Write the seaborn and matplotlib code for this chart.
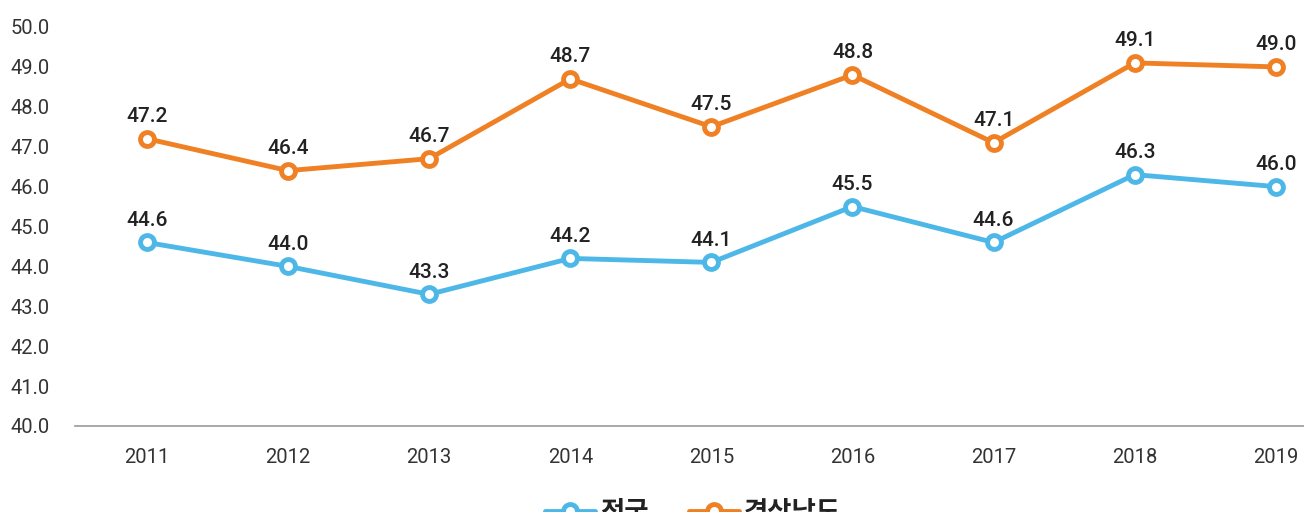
import pandas as pd
import matplotlib.pyplot as plt
from matplotlib.lines import Line2D
import seaborn as sns

years = ["2011", "2012", "2013", "2014", "2015", "2016", "2017", "2018", "2019"]
national = [44.6, 44.0, 43.3, 44.2, 44.1, 45.5, 44.6, 46.3, 46.0]
gyeongnam = [47.2, 46.4, 46.7, 48.7, 47.5, 48.8, 47.1, 49.1, 49.0]
series_names = ["전국", "경상남도"]

df = pd.DataFrame({"year": years * 2,
                   "value": national + gyeongnam,
                   "region": [series_names[0]] * 9 + [series_names[1]] * 9})

sns.set_theme(style="white")
plt.rcParams['font.family'] = ['Roboto', 'Noto Sans CJK KR', 'DejaVu Sans']

colors = {"전국": "#4db8e8", "경상남도": "#f08024"}

fig = plt.figure(figsize=(13.04, 5.12), dpi=100)
ax = fig.add_axes([75 / 1304, 1 - 426 / 512, 1 - 75 / 1304, 399 / 512])

sns.lineplot(data=df, x="year", y="value", hue="region", palette=colors,
             marker="o", markersize=10, markerfacecolor="white",
             markeredgewidth=3.5, linewidth=3.5, ax=ax, sort=False, legend=False)

# seaborn paints marker edges white; give them the line colour
for ln in ax.lines:
    ln.set_markeredgecolor(ln.get_color())

for name, vals in zip(series_names, [national, gyeongnam]):
    for i, v in enumerate(vals):
        ax.annotate(f"{v:.1f}", (i, v), xytext=(0, 9), textcoords="offset points",
                    ha="center", va="bottom", fontsize=15, fontweight="medium",
                    color="#222222")

ax.set_ylim(40, 50)
ax.set_xlim(-0.51, 8.2)
ax.set_yticks([40 + i for i in range(11)])
ax.set_yticklabels([f"{40 + i:.1f}" for i in range(11)])
ax.set_xlabel("")
ax.set_ylabel("")
ax.tick_params(axis="both", length=0, labelsize=14.5, colors="#333333")
ax.tick_params(axis="y", pad=18)
ax.tick_params(axis="x", pad=16)
for s in ["top", "right", "left"]:
    ax.spines[s].set_visible(False)
ax.spines["bottom"].set_color("#999999")
ax.spines["bottom"].set_linewidth(1.2)

handles = [Line2D([], [], color=colors[n], linewidth=3.5, marker="o", markersize=10,
                  markerfacecolor="white", markeredgecolor=colors[n],
                  markeredgewidth=3.5) for n in series_names]
leg = fig.legend(handles, series_names, loc="center left",
                 bbox_to_anchor=(545 / 1304, -1 / 512), ncol=2, frameon=False,
                 prop={"family": ["Noto Sans CJK KR"], "weight": "bold", "size": 19},
                 handlelength=1.9, handletextpad=0.2, columnspacing=1.5,
                 borderpad=0, borderaxespad=0)
for t in leg.get_texts():
    t.set_color("#222222")

fig.savefig("out.png", dpi=100)
